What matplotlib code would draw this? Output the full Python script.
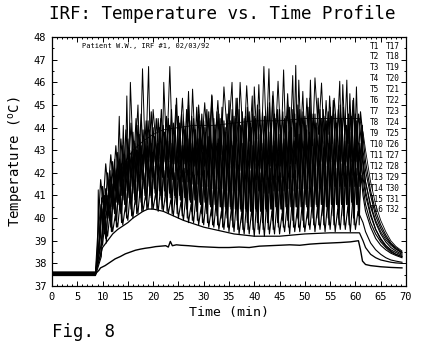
import numpy as np
import matplotlib
matplotlib.use("Agg")
import matplotlib.pyplot as plt
from matplotlib.ticker import MultipleLocator

plt.rcParams["font.family"] = ["DejaVu Sans Mono", "DejaVu Sans"]

# --- sampling clocks (min) ---
t_base = [0.0, 8.6]                      # pre-heating baseline
t_heat = np.arange(9.0, 60.51, 0.5)      # 30 s readings during RF heating
t_cool = [61.5, 62.0, 63.0, 64.0, 65.0, 66.0, 67.0, 68.0, 69.2]

# per-probe offset of the 30 s reading within the scan cycle (min)
read_offset = [0.0, 0.625, 0.25, 0.875, 0.5, 0.125, 0.75, 0.375]
baseline = [37.50, 37.56, 37.48, 37.60, 37.53, 37.62, 37.46, 37.58]

# --- heating phase, interstitial probes (deg C) ---
probe1 = [38.1, 39.4, 38.8, 39.9, 39.2, 40.3, 39.4, 40.1, 39.6, 40.8, 39.7, 40.5, 39.9,
          41.2, 40.0, 40.9, 40.2, 41.5, 40.3, 41.0, 40.4, 41.6, 40.4, 41.1, 40.3, 41.4,
          40.3, 41.2, 40.2, 40.8, 40.1, 41.3, 40.0, 40.7, 39.9, 41.1, 39.8, 40.6, 39.8,
          41.0, 39.7, 40.5, 39.7, 40.9, 39.6, 40.4, 39.6, 40.8, 39.5, 40.3, 39.5, 40.7,
          39.4, 40.5, 39.4, 40.9, 39.3, 40.2, 39.3, 40.7, 39.3, 40.4, 39.2, 40.8, 39.3,
          40.5, 39.2, 40.9, 39.3, 40.3, 39.3, 40.7, 39.3, 40.2, 39.4, 40.6, 39.3, 40.8,
          39.4, 40.4, 39.4, 40.7, 39.4, 40.3, 39.5, 40.8, 39.4, 40.5, 39.5, 40.6, 39.4,
          40.7, 39.5, 40.9, 39.4, 40.4, 39.5, 40.8, 39.5, 40.5, 39.4, 40.9, 39.5, 40.3]
probe2 = [38.4, 40.1, 39.1, 40.7, 39.6, 41.2, 39.9, 41.0, 40.2, 41.7, 40.3, 41.9, 40.4,
          42.2, 40.6, 42.5, 40.7, 42.0, 40.8, 42.6, 40.9, 42.3, 40.8, 42.7, 40.8, 42.1,
          40.7, 42.5, 40.6, 42.0, 40.6, 42.6, 40.5, 42.2, 40.4, 42.4, 40.3, 41.9, 40.3,
          42.5, 40.2, 42.1, 40.2, 42.4, 40.1, 41.9, 40.1, 42.5, 40.0, 42.2, 40.0, 42.3,
          39.9, 42.4, 39.9, 42.0, 39.8, 42.6, 39.8, 42.1, 39.9, 42.4, 39.8, 42.0, 39.8,
          42.5, 39.8, 42.2, 39.9, 42.4, 39.8, 42.0, 39.9, 42.6, 39.9, 42.3, 39.9, 42.1,
          40.0, 42.4, 39.9, 42.1, 40.0, 42.6, 40.0, 42.2, 40.0, 42.4, 40.1, 42.3, 40.0,
          42.5, 40.1, 42.2, 40.0, 42.4, 40.1, 42.3, 40.1, 42.6, 40.0, 42.2, 40.1, 41.9]
probe3 = [38.7, 40.6, 39.6, 41.3, 40.1, 41.8, 40.4, 42.1, 40.6, 42.4, 40.8, 42.6, 40.9,
          42.9, 41.1, 43.0, 41.2, 43.2, 41.3, 42.9, 41.4, 43.3, 41.3, 43.1, 41.2, 43.2,
          41.2, 43.0, 41.1, 43.3, 41.0, 42.9, 41.0, 43.2, 40.9, 43.0, 40.8, 43.3, 40.8,
          43.1, 40.7, 42.9, 40.7, 43.2, 40.6, 43.0, 40.6, 43.3, 40.5, 42.9, 40.5, 43.1,
          40.5, 43.2, 40.4, 42.9, 40.4, 43.3, 40.4, 43.0, 40.3, 43.2, 40.4, 42.9, 40.3,
          43.3, 40.4, 43.0, 40.4, 43.2, 40.5, 42.9, 40.4, 43.3, 40.5, 43.1, 40.5, 43.0,
          40.5, 43.2, 40.5, 42.9, 40.6, 43.3, 40.5, 43.0, 40.6, 43.2, 40.6, 43.1, 40.5,
          43.3, 40.6, 43.0, 40.6, 43.2, 40.6, 42.9, 40.6, 43.3, 40.7, 43.1, 40.6, 42.8]
probe4 = [39.0, 41.0, 40.0, 41.7, 40.5, 42.2, 40.8, 42.6, 41.0, 42.8, 41.2, 43.0, 41.4,
          43.3, 41.6, 43.5, 41.7, 43.4, 41.8, 43.7, 41.8, 43.6, 41.9, 43.8, 41.8, 43.7,
          41.8, 43.8, 41.7, 43.9, 41.7, 43.7, 41.6, 44.0, 41.6, 43.8, 41.5, 43.9, 41.5,
          44.0, 41.4, 43.8, 41.4, 44.1, 41.3, 43.9, 41.3, 44.1, 41.3, 43.8, 41.2, 44.0,
          41.2, 44.1, 41.2, 43.9, 41.1, 44.2, 41.1, 44.0, 41.1, 44.1, 41.2, 43.9, 41.1,
          44.2, 41.1, 44.0, 41.2, 44.2, 41.2, 43.9, 41.2, 44.1, 41.3, 44.0, 41.2, 44.2,
          41.3, 44.1, 41.3, 43.9, 41.3, 44.2, 41.4, 44.0, 41.3, 44.1, 41.4, 43.9, 41.4,
          44.2, 41.4, 44.0, 41.4, 44.1, 41.4, 43.9, 41.4, 44.2, 41.4, 44.0, 41.4, 44.1]
probe5 = [39.3, 41.4, 40.3, 42.0, 40.9, 42.5, 41.2, 42.9, 41.4, 43.2, 41.6, 43.5, 41.8,
          43.8, 42.0, 44.1, 42.1, 43.9, 42.2, 44.3, 42.2, 44.0, 42.3, 44.4, 42.2, 44.1,
          42.2, 44.4, 42.1, 44.2, 42.1, 44.5, 42.0, 44.3, 42.0, 45.0, 41.9, 44.4, 41.9,
          44.6, 41.9, 44.3, 41.8, 44.7, 41.8, 44.4, 41.8, 44.6, 41.7, 44.3, 41.7, 45.2,
          41.7, 44.5, 41.7, 44.8, 41.6, 44.4, 41.6, 44.7, 41.6, 44.5, 41.7, 44.8, 41.6,
          44.5, 41.7, 45.1, 41.7, 44.6, 41.7, 44.8, 41.8, 44.4, 41.7, 44.9, 41.8, 44.6,
          41.8, 44.8, 41.8, 44.5, 41.8, 45.3, 41.8, 44.6, 41.9, 44.8, 41.9, 44.5, 41.9,
          44.9, 41.9, 44.6, 41.9, 45.0, 41.9, 44.5, 41.9, 44.8, 41.9, 44.6, 41.9, 44.7]
probe6 = [39.6, 41.7, 40.6, 42.4, 41.2, 42.8, 41.5, 43.2, 41.7, 43.5, 41.9, 43.9, 42.0,
          44.2, 42.2, 44.4, 42.3, 44.6, 42.4, 44.3, 42.5, 44.7, 42.5, 44.4, 42.5, 44.8,
          42.5, 44.5, 42.5, 44.8, 42.4, 45.3, 42.4, 44.6, 42.4, 44.8, 42.3, 44.5, 42.3,
          44.9, 42.3, 44.6, 42.3, 44.8, 42.2, 45.4, 42.2, 44.7, 42.2, 44.9, 42.2, 44.6,
          42.2, 44.8, 42.2, 45.3, 42.1, 44.7, 42.2, 44.9, 42.2, 44.6, 42.2, 45.0, 42.2,
          44.7, 42.2, 44.9, 42.3, 45.4, 42.3, 44.8, 42.3, 44.7, 42.3, 45.0, 42.4, 44.8,
          42.4, 45.0, 42.4, 44.7, 42.4, 44.9, 42.4, 44.6, 42.5, 45.3, 42.5, 44.8, 42.5,
          44.7, 42.5, 45.2, 42.5, 44.8, 42.5, 44.9, 42.5, 44.6, 42.5, 45.3, 42.5, 44.6]
probe7 = [38.3, 40.8, 38.9, 41.5, 39.4, 42.0, 39.6, 42.4, 39.8, 42.8, 40.0, 43.1, 40.1,
          43.4, 40.2, 43.7, 40.3, 43.5, 40.4, 43.9, 40.4, 43.6, 40.4, 44.0, 40.4, 43.8,
          40.3, 44.1, 40.2, 43.8, 40.2, 44.2, 40.1, 43.9, 40.0, 44.3, 39.9, 43.9, 39.9,
          44.3, 39.8, 44.0, 39.8, 44.4, 39.7, 44.1, 39.7, 44.4, 39.6, 44.0, 39.6, 44.3,
          39.6, 44.4, 39.5, 44.1, 39.5, 44.5, 39.5, 44.2, 39.5, 44.4, 39.5, 44.1, 39.5,
          44.5, 39.5, 44.2, 39.5, 44.4, 39.6, 44.1, 39.6, 44.5, 39.6, 44.3, 39.6, 44.2,
          39.6, 44.4, 39.6, 44.1, 39.7, 44.5, 39.7, 44.2, 39.7, 44.4, 39.7, 44.3, 39.7,
          44.5, 39.7, 44.2, 39.7, 44.4, 39.7, 44.1, 39.7, 44.5, 39.7, 44.3, 39.7, 44.0]
probe8 = [38.5, 40.4, 39.3, 41.0, 39.9, 41.5, 40.2, 41.9, 40.4, 42.2, 40.6, 42.5, 40.7,
          42.7, 40.8, 43.0, 40.9, 42.8, 41.0, 43.2, 41.0, 42.9, 41.1, 43.3, 41.0, 43.0,
          41.0, 43.4, 40.9, 43.1, 40.9, 43.5, 40.8, 43.2, 40.8, 43.5, 40.7, 43.1, 40.7,
          43.5, 40.6, 43.2, 40.6, 43.6, 40.5, 43.3, 40.5, 43.5, 40.5, 43.2, 40.4, 43.6,
          40.4, 43.4, 40.4, 43.7, 40.3, 43.3, 40.3, 43.6, 40.3, 43.4, 40.3, 43.7, 40.3,
          43.5, 40.3, 43.8, 40.4, 43.4, 40.4, 43.7, 40.4, 43.5, 40.4, 43.8, 40.4, 43.4,
          40.5, 43.7, 40.5, 43.4, 40.5, 43.8, 40.5, 43.5, 40.5, 43.7, 40.6, 43.4, 40.5,
          43.8, 40.6, 43.5, 40.6, 43.7, 40.6, 43.4, 40.6, 43.8, 40.6, 43.5, 40.6, 43.3]

# --- cool-down after RF off (deg C at t_cool) ---
cool1 = [39.8, 39.4, 38.9, 38.6, 38.4, 38.25, 38.15, 38.1, 38.05]
cool2 = [41.0, 40.3, 39.6, 39.1, 38.8, 38.6, 38.45, 38.35, 38.25]
cool3 = [41.8, 41.0, 40.1, 39.5, 39.1, 38.8, 38.6, 38.48, 38.35]
cool4 = [43.0, 42.1, 41.0, 40.1, 39.55, 39.15, 38.85, 38.65, 38.45]
cool5 = [43.6, 42.5, 41.2, 40.3, 39.7, 39.25, 38.9, 38.7, 38.5]
cool6 = [42.6, 41.6, 40.5, 39.8, 39.3, 38.95, 38.7, 38.55, 38.4]
cool7 = [42.2, 41.2, 40.2, 39.5, 39.05, 38.75, 38.55, 38.4, 38.3]
cool8 = [41.4, 40.6, 39.8, 39.3, 38.95, 38.7, 38.5, 38.4, 38.3]

# hottest probe, read on its own irregular clock
hot_t = [9.0, 9.15, 9.4, 9.8, 10.1, 10.6, 11.1, 11.5, 11.9, 12.4, 12.8, 13.3,
         13.7, 14.1, 14.45, 14.8, 15.15, 15.5, 16.2, 17.0, 17.4, 17.9, 18.5, 19.1,
         19.5, 20.0, 20.8, 21.5, 21.8, 22.1, 22.7, 23.3, 23.9, 24.5, 25.1, 25.8,
         26.4, 27.0, 27.4, 27.8, 28.4, 29.0, 29.6, 30.2, 30.9, 31.6, 32.2, 32.8,
         33.4, 34.0, 34.8, 35.6, 36.0, 36.4, 36.8, 37.2, 37.9, 38.5, 39.1, 39.6,
         39.8, 40.0, 40.5, 40.9, 41.4, 41.9, 42.4, 42.9, 43.3, 43.7, 44.2, 44.7,
         45.3, 45.8, 46.2, 46.6, 47.1, 47.6, 47.9, 48.2, 48.5, 48.8, 49.2, 49.6,
         50.0, 50.4, 50.8, 51.1, 51.5, 52.0, 52.7, 53.3, 53.8, 54.2, 54.6, 54.9,
         55.4, 55.8, 56.4, 56.9, 57.2, 57.5, 57.9, 58.3, 58.6, 58.9, 59.2, 59.5,
         59.9, 60.2, 60.5]
hot_T = [38.2, 41.25, 38.9, 40.9, 39.3, 41.3, 40.0, 42.1, 40.4, 42.6, 40.7, 44.5,
         41.0, 44.1, 41.2, 45.4, 41.5, 46.0, 41.8, 45.0, 42.0, 46.6, 42.3, 46.7,
         42.1, 44.8, 42.6, 44.4, 42.3, 46.0, 42.8, 46.7, 42.4, 45.0, 42.9, 45.3,
         42.5, 45.6, 43.0, 45.7, 42.6, 45.0, 43.1, 45.1, 42.7, 45.45, 43.2, 45.2,
         42.8, 45.8, 43.3, 46.0, 42.9, 45.3, 43.4, 46.0, 42.9, 45.85, 43.4, 45.4,
         43.0, 45.8, 43.5, 45.9, 43.0, 46.7, 43.5, 46.6, 43.1, 45.6, 43.6, 46.05,
         43.1, 46.55, 43.6, 45.5, 43.2, 46.3, 43.6, 46.75, 43.2, 46.1, 43.7, 45.6,
         43.2, 45.3, 43.7, 46.1, 43.2, 46.2, 43.7, 45.97, 43.3, 45.2, 43.7, 45.4,
         43.3, 45.3, 43.7, 46.05, 43.3, 45.9, 43.7, 46.1, 43.3, 45.5, 43.7, 45.2,
         43.3, 45.8, 43.4]
hot_cool = [42.4, 41.6, 40.6, 39.9, 39.4, 39.05, 38.8, 38.62, 38.48]

# upper edge of the heated volume
upper_t = [0.0, 8.6, 9.3, 9.7, 10.4, 11.8, 13.0, 14.5, 16.0, 18.0, 20.0, 22.0,
           25.0, 28.0, 32.0, 36.0, 40.0, 45.0, 50.0, 55.0, 60.8]
upper_T = [37.52, 37.52, 39.8, 40.6, 40.95, 41.0, 41.8, 42.5, 43.0, 43.4, 43.7, 43.9,
           44.0, 44.1, 44.1, 44.2, 44.3, 44.3, 44.4, 44.4, 44.4]
upper_cool = [43.8, 43.0, 41.6, 40.6, 39.9, 39.4, 39.0, 38.75, 38.55]

# lower edge of the heated volume
lower_t = [0.0, 8.6, 9.0, 9.5, 10.0, 11.0, 12.0, 13.0, 14.0, 15.0, 16.0, 17.0, 18.0,
           19.0, 20.0, 22.0, 24.0, 26.0, 28.0, 30.0, 33.0, 36.0, 40.0, 45.0, 50.0,
           55.0, 60.8]
lower_T = [37.55, 37.55, 37.9, 38.3, 38.7, 39.0, 39.3, 39.5, 39.65, 39.8, 40.0, 40.15,
           40.3, 40.4, 40.4, 40.3, 40.1, 39.9, 39.75, 39.6, 39.45, 39.3, 39.2, 39.2,
           39.3, 39.35, 39.35]
lower_cool = [39.0, 38.7, 38.4, 38.25, 38.15, 38.1, 38.05, 38.02, 38.0]

# reference probe outside the implant
ref_t = [0.0, 8.6, 9.3, 9.6, 10.5, 11.5, 12.5, 13.5, 14.5, 15.5, 16.5, 17.5, 18.5,
         19.5, 20.5, 21.5, 22.5, 23.0, 23.4, 23.8, 24.6, 25.5, 27.0, 29.0, 31.0,
         33.0, 35.0, 37.0, 39.0, 41.0, 43.0, 45.0, 47.0, 49.0, 51.0, 53.0, 55.0,
         57.0, 59.0, 60.6, 61.0, 61.4, 62.0, 63.0, 65.0, 67.0, 69.2]
ref_T = [37.54, 37.54, 37.7, 37.8, 37.9, 38.05, 38.2, 38.3, 38.42, 38.5, 38.58,
         38.63, 38.67, 38.7, 38.74, 38.76, 38.78, 38.72, 38.97, 38.78, 38.82, 38.8,
         38.78, 38.74, 38.72, 38.7, 38.7, 38.72, 38.7, 38.76, 38.78, 38.8, 38.82,
         38.8, 38.85, 38.88, 38.9, 38.92, 38.95, 39.0, 38.6, 38.1, 37.95, 37.9,
         37.85, 37.82, 37.8]

sensors_left = ["T1", "T2", "T3", "T4", "T5", "T6", "T7", "T8",
                "T9", "T10", "T11", "T12", "T13", "T14", "T15", "T16"]
sensors_right = ["T17", "T18", "T19", "T20", "T21", "T22", "T23", "T24",
                 "T25", "T26", "T27", "T28", "T29", "T30", "T31", "T32"]

fig = plt.figure(figsize=(4.23, 3.5), dpi=100)
ax = fig.add_axes([0.1229, 0.1829, 0.8369, 0.7111])

heat_series = [probe1, probe2, probe3, probe4, probe5, probe6, probe7, probe8]
cool_series = [cool1, cool2, cool3, cool4, cool5, cool6, cool7, cool8]
for heat, cool, base, off in zip(heat_series, cool_series, baseline, read_offset):
    t = np.concatenate([t_base, t_heat + off, t_cool])
    T = np.concatenate([[base, base], heat, cool])
    ax.plot(t, T, color="black", lw=0.8)

ax.plot(np.concatenate([t_base, hot_t, t_cool]),
        np.concatenate([[37.57, 37.57], hot_T, hot_cool]), color="black", lw=0.7)
ax.plot(np.concatenate([upper_t, t_cool]), np.concatenate([upper_T, upper_cool]),
        color="black", lw=0.6)
ax.plot(np.concatenate([lower_t, t_cool]), np.concatenate([lower_T, lower_cool]),
        color="black", lw=0.9)
ax.plot(ref_t, ref_T, color="black", lw=1.0)

ax.set_xlim(0, 70)
ax.set_ylim(37, 48)
ax.xaxis.set_major_locator(MultipleLocator(5))
ax.xaxis.set_minor_locator(MultipleLocator(1))
ax.yaxis.set_major_locator(MultipleLocator(1))
ax.yaxis.set_minor_locator(MultipleLocator(0.5))
ax.tick_params(which="both", direction="in", top=True, right=True, width=0.7)
ax.tick_params(which="major", length=3.5, labelsize=7.5, pad=4)
ax.tick_params(which="minor", length=1.5)
for sp in ax.spines.values():
    sp.set_linewidth(0.9)

ax.set_xlabel("Time (min)", fontsize=9.5, labelpad=3)
ax.set_ylabel("Temperature ($^{\\mathregular{o}}$C)", fontsize=10, labelpad=6)

ax.text(0.085, 0.964, "Patient W.W., IRF #1, 02/03/92", transform=ax.transAxes,
        fontsize=5, va="center", ha="left")
for i, (a, b) in enumerate(zip(sensors_left, sensors_right)):
    y = 0.964 - i * 0.0439
    ax.text(0.899, y, a, transform=ax.transAxes, fontsize=5.6, va="center")
    ax.text(0.943, y, b, transform=ax.transAxes, fontsize=5.6, va="center")

fig.text(0.525, 0.96, "IRF: Temperature vs. Time Profile", ha="center", va="center",
         fontsize=12.6)
fig.text(0.123, 0.052, "Fig. 8", ha="left", va="center", fontsize=12.5)

fig.savefig("out.png", dpi=100)
